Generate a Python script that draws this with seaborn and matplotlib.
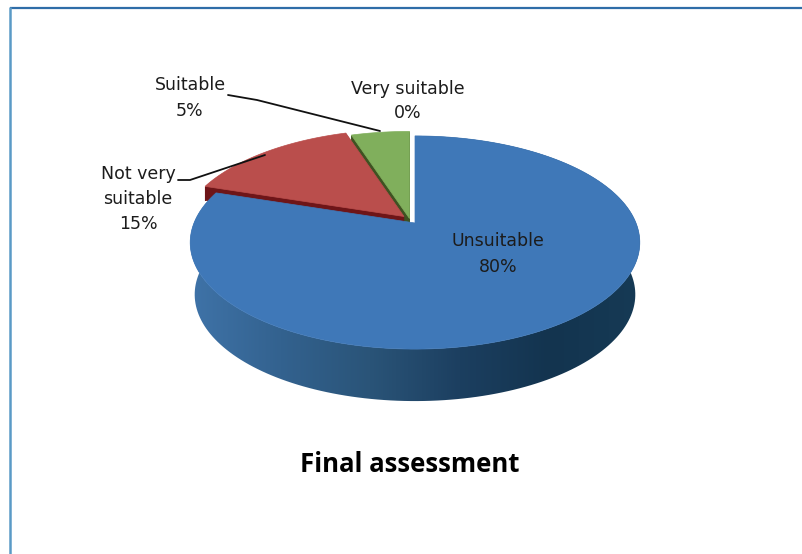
import numpy as np
import matplotlib
matplotlib.use("Agg")
import matplotlib.pyplot as plt
from matplotlib.colors import LinearSegmentedColormap
from matplotlib.patches import Polygon
import seaborn as sns

categories = ["Unsuitable", "Not very\nsuitable", "Suitable", "Very suitable"]
values = [80, 15, 5, 0]
top_colors = ["#3F78B8", "#BA4E4C", "#80AF5C", "#80AF5C"]
side_colors = ["#2A5A80", "#6E1518", "#3F5222", "#3F5222"]
wall_colors = ["#3F73A8", "#33628F", "#2A5478", "#1C3F60", "#13344F", "#163A55"]
title = "Final assessment"

# pixel layout of the 3d look
apexes = [(415, 223), (404, 216.5), (409.5, 218.5), (409.5, 218.5)]
sx, sy, k = 221, 103, 0.183
label_pos = [(498, 254), (138, 199), (190, 98), (408, 101)]

sns.set_style("white")
plt.rcParams["font.family"] = ["DejaVu Sans"]

fig, ax = plt.subplots(figsize=(8.03, 5.54), dpi=100)
fig.subplots_adjust(0, 0, 1, 1)

wedges, _ = ax.pie(values, startangle=90, counterclock=False, colors=top_colors)
angles = [(w.theta1, w.theta2) for w in wedges]
for w in wedges:
    w.set_visible(False)

ax.set_aspect("auto")
ax.set_xlim(0, 803)
ax.set_ylim(554, 0)
ax.axis("off")


def arc(t1, t2, apex, dy=0, xscale=1.0):
    t = np.radians(np.linspace(t1, t2, 200))
    w = 1 + k * np.sin(t)
    return np.column_stack([apex[0] + xscale * sx * np.cos(t) / w,
                            apex[1] + dy - sy * np.sin(t) / w])


def extrude(poly, depth, color, z):
    # stack the face downwards so the cut edges show
    for d in np.arange(depth, 0, -1):
        ax.add_patch(Polygon(poly + [0, d], closed=True, fc=color, ec=color, lw=0.5, zorder=z))


# outer wall of the big slice with its left to right shading
t1, t2 = angles[0]
top_arc = arc(t1, t2, apexes[0])
low_arc = arc(t1, t2, apexes[0], dy=52, xscale=0.98)
wall = Polygon(np.vstack([top_arc, low_arc[::-1]]), closed=True, fc="none", ec="none")
ax.add_patch(wall)
cmap = LinearSegmentedColormap.from_list("wall", wall_colors)
img = ax.imshow(np.linspace(0, 1, 256).reshape(1, -1), cmap=cmap, aspect="auto",
                extent=(190, 640, 554, 0), zorder=1)
img.set_clip_path(wall)
ax.set_xlim(0, 803)
ax.set_ylim(554, 0)

# green and red faces, then the blue top over them
for i in [2, 1]:
    t1, t2 = angles[i]
    poly = np.vstack([apexes[i], arc(t1, t2, apexes[i])])
    extrude(poly, 14, side_colors[i], 2)
for i in [2, 1, 0]:
    if values[i] == 0:
        continue
    t1, t2 = angles[i]
    poly = np.vstack([apexes[i], arc(t1, t2, apexes[i])])
    ax.add_patch(Polygon(poly, closed=True, fc=top_colors[i], ec=top_colors[i], lw=0.5, zorder=3))

for name, val, pos in zip(categories, values, label_pos):
    ax.text(pos[0], pos[1], f"{name}\n{val}%", ha="center", va="center", fontsize=12.5,
            color="#1c1c1c", linespacing=1.5, zorder=5)

# leader lines
ax.plot([228, 257, 380], [95, 100, 131], color="#111111", lw=1.3, zorder=4)
ax.plot([178, 190, 265], [180, 180, 155], color="#111111", lw=1.3, zorder=4)

ax.text(410, 465, title, ha="center", va="center", fontsize=18.5, fontweight="bold",
        family="Open Sans", color="black")

# frame of the pasted chart, open to the right and bottom
ax.plot([803, 10], [8, 8], color="#2F6DA8", lw=1.6, solid_capstyle="butt", zorder=6)
ax.plot([10, 10], [7, 554], color="#5A9AC6", lw=1.8, solid_capstyle="butt", zorder=6)

fig.savefig("out.png", dpi=100)
